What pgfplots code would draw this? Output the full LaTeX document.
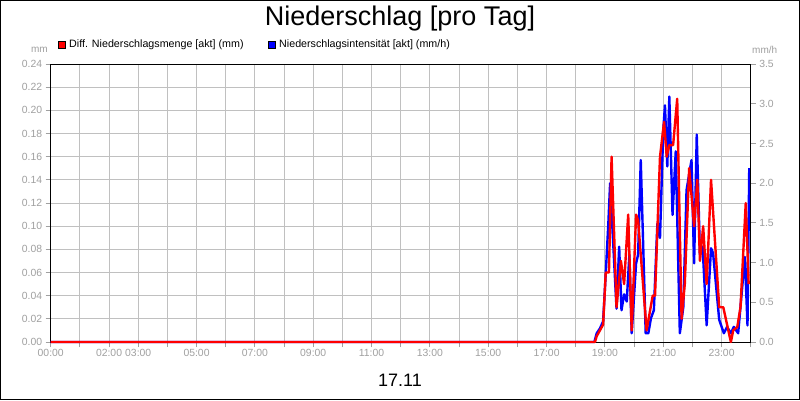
\documentclass[border=0pt]{standalone}
\usepackage{fontspec}
\setmainfont{Liberation Sans}
\usepackage{pgfplots}
\usepackage{pgfplotstable}
\pgfplotsset{compat=1.18}
\definecolor{tickgray}{RGB}{160,160,160}
\definecolor{gridgray}{RGB}{192,192,192}

% Diff. Niederschlagsmenge (mm), time in hours
\pgfplotstableread{
h     v
0     0
18.66 0
18.72 0.005
18.83 0.01
18.94 0.015
19.03 0.06
19.14 0.06
19.23 0.16
19.40 0.03
19.55 0.07
19.66 0.05
19.80 0.11
19.92 0.01
20.07 0.11
20.14 0.105
20.43 0.01
20.64 0.04
20.72 0.04
20.89 0.16
21.03 0.19
21.12 0.16
21.21 0.17
21.34 0.17
21.48 0.21
21.63 0.02
21.74 0.05
21.89 0.15
22.06 0.10
22.17 0.14
22.26 0.07
22.37 0.10
22.49 0.05
22.64 0.14
22.92 0.03
23.06 0.03
23.19 0.015
23.32 0.0
23.40 0.01
23.54 0.013
23.65 0.03
23.83 0.12
23.93 0.05
}\menge

% Niederschlagsintensitaet (mm/h)
\pgfplotstableread{
h     v
0     0
18.64 0
18.72 0.11
18.83 0.17
18.94 0.26
19.03 0.86
19.12 1.50
19.18 2.00
19.40 0.42
19.49 1.20
19.57 0.40
19.66 0.60
19.75 0.51
19.84 1.10
19.92 0.11
20.07 0.99
20.14 1.10
20.23 2.29
20.40 0.11
20.49 0.11
20.58 0.30
20.68 0.40
20.80 1.49
20.89 1.31
21.00 2.65
21.06 2.98
21.14 2.21
21.21 3.09
21.32 1.60
21.43 2.40
21.57 0.11
21.69 0.44
21.80 1.91
21.97 2.29
22.06 0.99
22.15 2.61
22.26 1.10
22.35 1.20
22.49 0.21
22.64 1.18
22.71 1.12
22.92 0.28
23.08 0.11
23.19 0.19
23.32 0.11
23.42 0.19
23.57 0.11
23.80 1.07
23.89 0.21
23.95 2.19
}\intens

\begin{document}
\begin{tikzpicture}
\useasboundingbox (0,0) rectangle (800pt,400pt);
\fill[white] (0,0) rectangle (800pt,400pt);

\begin{axis}[
  at={(50.7pt,58pt)}, anchor=south west,
  width=700pt, height=278pt, scale only axis,
  xmin=0, xmax=24, ymin=0, ymax=0.24,
  clip=false,
  xtick={0,1,2,3,4,5,6,7,8,9,10,11,12,13,14,15,16,17,18,19,20,21,22,23,24},
  xticklabels={00:00,,02:00,03:00,,05:00,,07:00,,09:00,,11:00,,13:00,,15:00,,17:00,,19:00,,21:00,,23:00,},
  ytick={0,0.02,0.04,0.06,0.08,0.10,0.12,0.14,0.16,0.18,0.20,0.22,0.24},
  xtick pos=bottom, ytick pos=left,
  tick align=outside, major tick length=5pt,
  tick style={tickgray, line width=1pt},
  grid=major, major grid style={gridgray, line width=1pt},
  axis line style={black, line width=1pt},
  ticklabel style={tickgray, font=\fontsize{10.4}{12}\selectfont},
  yticklabel style={/pgf/number format/.cd, fixed, fixed zerofill, precision=2, assume math mode=true},
  xticklabel style={yshift=1pt},
]
\addplot[blue, line width=2.4pt, line join=round] table[x=h, y expr=\thisrow{v}*0.24/3.5] {\intens};
\addplot[red, line width=2.4pt, line join=round] table[x=h, y=v] {\menge};
\end{axis}

\begin{axis}[
  at={(50.7pt,58pt)}, anchor=south west,
  width=700pt, height=278pt, scale only axis,
  xmin=0, xmax=24, ymin=0, ymax=3.5,
  axis x line=none, axis y line*=right,
  ytick={0,0.5,1,1.5,2,2.5,3,3.5},
  tick align=outside, major tick length=5pt,
  tick style={tickgray, line width=1pt},
  axis line style={black, line width=1pt},
  ticklabel style={tickgray, font=\fontsize{10.4}{12}\selectfont},
  yticklabel style={/pgf/number format/.cd, fixed, fixed zerofill, precision=1, assume math mode=true},
]
\end{axis}

\node[font=\fontsize{27}{32}\selectfont] at (400pt,381pt) {Niederschlag [pro Tag]};
\draw[fill=red, draw=black, line width=0.6pt] (58.5pt,352pt) rectangle (65pt,358.5pt);
\node[anchor=west, inner sep=0pt, font=\fontsize{10.7}{12}\selectfont] at (69pt,355.3pt) {Diff. Niederschlagsmenge [akt] (mm)};
\draw[fill=blue, draw=black, line width=0.6pt] (268.5pt,352pt) rectangle (275pt,358.5pt);
\node[anchor=west, inner sep=0pt, font=\fontsize{10.7}{12}\selectfont] at (279pt,355.3pt) {Niederschlagsintensität [akt] (mm/h)};
\node[anchor=east, inner sep=0pt, tickgray, font=\fontsize{10}{12}\selectfont] at (48pt,350pt) {mm};
\node[anchor=west, inner sep=0pt, tickgray, font=\fontsize{10}{12}\selectfont] at (752pt,350pt) {mm/h};
\node[font=\fontsize{18}{22}\selectfont] at (400pt,20pt) {17.11};
\draw[black, line width=1pt] (0.5pt,0.5pt) rectangle (799.5pt,399.5pt);
\end{tikzpicture}
\end{document}
